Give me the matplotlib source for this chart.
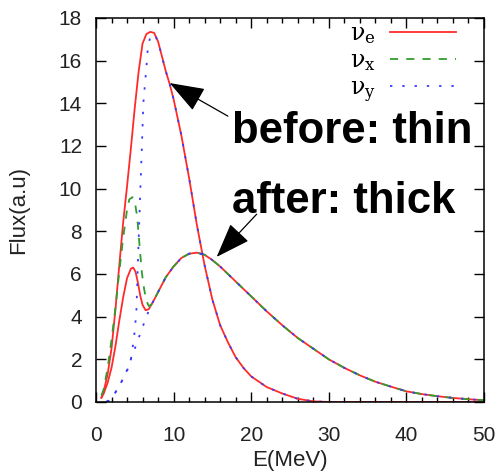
import matplotlib
matplotlib.use("Agg")
import matplotlib.pyplot as plt
import numpy as np

plt.rcParams['font.family'] = ['Liberation Sans', 'DejaVu Sans']
plt.rcParams['mathtext.fontset'] = 'dejavuserif'

# before (thin): nu_e and nu_y
before_e_E = [0.7, 1.0, 1.5, 2.0, 2.5, 3.0, 3.5, 4.0, 4.5, 5.0, 5.5, 6.0, 6.5, 7.0, 7.5, 8.0,
              8.5, 9.0, 9.5, 10, 11, 12, 13, 14, 15, 16, 17, 18, 19, 20, 22, 24, 26, 28, 30,
              35, 40, 45, 50]
before_e_F = [0.2, 0.5, 1.3, 2.5, 4.3, 6.4, 8.4, 10.1, 11.9, 13.8, 15.5, 16.8, 17.25, 17.35, 17.3, 16.9,
              16.2, 15.5, 14.9, 14.2, 12.5, 10.5, 8.3, 6.4, 4.8, 3.6, 2.8, 2.1, 1.6, 1.2, 0.7, 0.4, 0.15, 0.03, 0.0,
              0.0, 0.0, 0.0, 0.0]
before_y_E = [1.5, 2.0, 2.5, 3.0, 3.5, 4.0, 4.5, 4.9, 5.2, 5.4, 5.7, 5.9, 6.1, 6.5, 6.7, 7.0, 7.5, 8.0]
before_y_F = [0.0, 0.2, 0.45, 0.75, 1.1, 1.45, 2.0, 3.0, 4.2, 6.5, 9.8, 11.8, 14.0, 15.7, 16.7, 17.1, 17.25, 16.9]

# after (thick): low-energy parts differ, tail is shared
after_tail_E = [7.5, 8, 8.5, 9, 10, 11, 12, 13, 14, 15, 16, 17, 18, 20, 22, 24, 26, 28, 30,
                32, 34, 36, 38, 40, 42, 44, 46, 48, 50]
after_tail_F = [4.8, 5.15, 5.5, 5.85, 6.35, 6.75, 6.95, 7.0, 6.9, 6.65, 6.35, 6.0, 5.65, 4.95, 4.25,
                3.6, 3.0, 2.5, 2.0, 1.6, 1.25, 0.95, 0.72, 0.5, 0.37, 0.27, 0.19, 0.13, 0.08]
after_e_E = [0.7, 1.0, 1.5, 2.0, 2.5, 3.0, 3.5, 4.0, 4.5, 4.8, 5.1, 5.4, 5.7, 6.0, 6.4, 6.8, 7.2]
after_e_F = [0.2, 0.4, 0.9, 1.6, 2.6, 3.8, 4.9, 5.8, 6.25, 6.3, 6.1, 5.6, 5.0, 4.55, 4.3, 4.35, 4.6]
after_x_E = [0.7, 1.0, 1.5, 2.0, 2.5, 3.0, 3.5, 4.0, 4.3, 4.7, 5.0, 5.3, 5.6, 5.9, 6.2, 6.5, 6.8, 7.1]
after_x_F = [0.3, 0.6, 1.6, 2.9, 4.4, 6.1, 7.7, 9.0, 9.5, 9.6, 9.4, 8.7, 7.4, 6.1, 5.3, 4.75, 4.5, 4.55]
after_y_E = [1.3, 2.0, 2.5, 3.0, 3.5, 4.0, 4.5, 5.0, 5.5, 6.0, 6.5, 7.0]
after_y_F = [0.0, 0.2, 0.45, 0.75, 1.1, 1.5, 2.0, 2.5, 3.0, 3.5, 4.0, 4.45]

labels = [r'ν$_\mathrm{e}$', r'ν$_\mathrm{x}$', r'ν$_\mathrm{y}$']
red = '#ff2a2a'
green = '#2f9e2f'
blue = '#3a3aff'

fig = plt.figure(figsize=(5.02, 4.76), dpi=100)
ax = fig.add_axes([0.1912, 0.1555, 0.7729, 0.8067])

# before_y continues along before_e tail
be_E = np.array(before_e_E)
be_F = np.array(before_e_F)
tail = be_E > 8.0
by_E = np.concatenate([before_y_E, be_E[tail]])
by_F = np.concatenate([before_y_F, be_F[tail]])

def with_tail(E, F):
    return np.concatenate([E, after_tail_E]), np.concatenate([F, after_tail_F])

lw = 1.3
dash = (0, (4.5, 4.5))
dot = (0, (1.3, 5.5))

l1, = ax.plot(be_E, be_F, color=red, lw=lw, label=labels[0])
E, F = with_tail(after_e_E, after_e_F)
ax.plot(E, F, color=red, lw=lw)
E, F = with_tail(after_x_E, after_x_F)
l2, = ax.plot(E, F, color=green, lw=lw, linestyle=dash, label=labels[1])
l3, = ax.plot(by_E, by_F, color=blue, lw=lw, linestyle=dot, label=labels[2])
E, F = with_tail(after_y_E, after_y_F)
ax.plot(E, F, color=blue, lw=lw, linestyle=dot)

ax.set_xlim(0, 50)
ax.set_ylim(0, 18)
ax.set_xticks(np.arange(0, 51, 10))
ax.set_xticks(np.arange(0, 51, 2), minor=True)
ax.set_yticks(np.arange(0, 19, 2))
ax.tick_params(which='both', direction='in', top=True, right=True, width=1.0,
               labelsize=15, labelcolor='#222222')
ax.tick_params(which='major', length=7)
ax.tick_params(which='minor', length=3.5)
ax.tick_params(axis='y', pad=10)
ax.tick_params(axis='x', pad=17)
for s in ax.spines.values():
    s.set_linewidth(1.1)

ax.set_xlabel('E(MeV)', fontsize=16, color='#222222', labelpad=4)
ax.set_ylabel('Flux(a.u)', fontsize=16, color='#222222', labelpad=21)

leg = ax.legend(handles=[l1, l2, l3], loc='upper right', frameon=False, markerfirst=False,
                prop={'family': 'DejaVu Serif', 'size': 17}, handlelength=2.8,
                handletextpad=0.6, labelspacing=0.15, borderpad=0, borderaxespad=0,
                bbox_to_anchor=(0.928, 0.99))

arrow = dict(arrowstyle='-|>,head_length=1.1,head_width=0.4', color='black', lw=0.9,
             mutation_scale=20, shrinkA=0, shrinkB=0)
ax.annotate('', xy=(9.5, 14.95), xytext=(17.0, 13.4), arrowprops=arrow)
ax.annotate('', xy=(15.55, 6.8), xytext=(20.7, 8.8), arrowprops=arrow)
ax.text(17.5, 12.13, 'before: thin', fontsize=31.5, fontweight='bold', va='baseline', ha='left')
ax.text(17.5, 8.88, 'after: thick', fontsize=31.5, fontweight='bold', va='baseline', ha='left')

fig.savefig('out.png', dpi=100)
